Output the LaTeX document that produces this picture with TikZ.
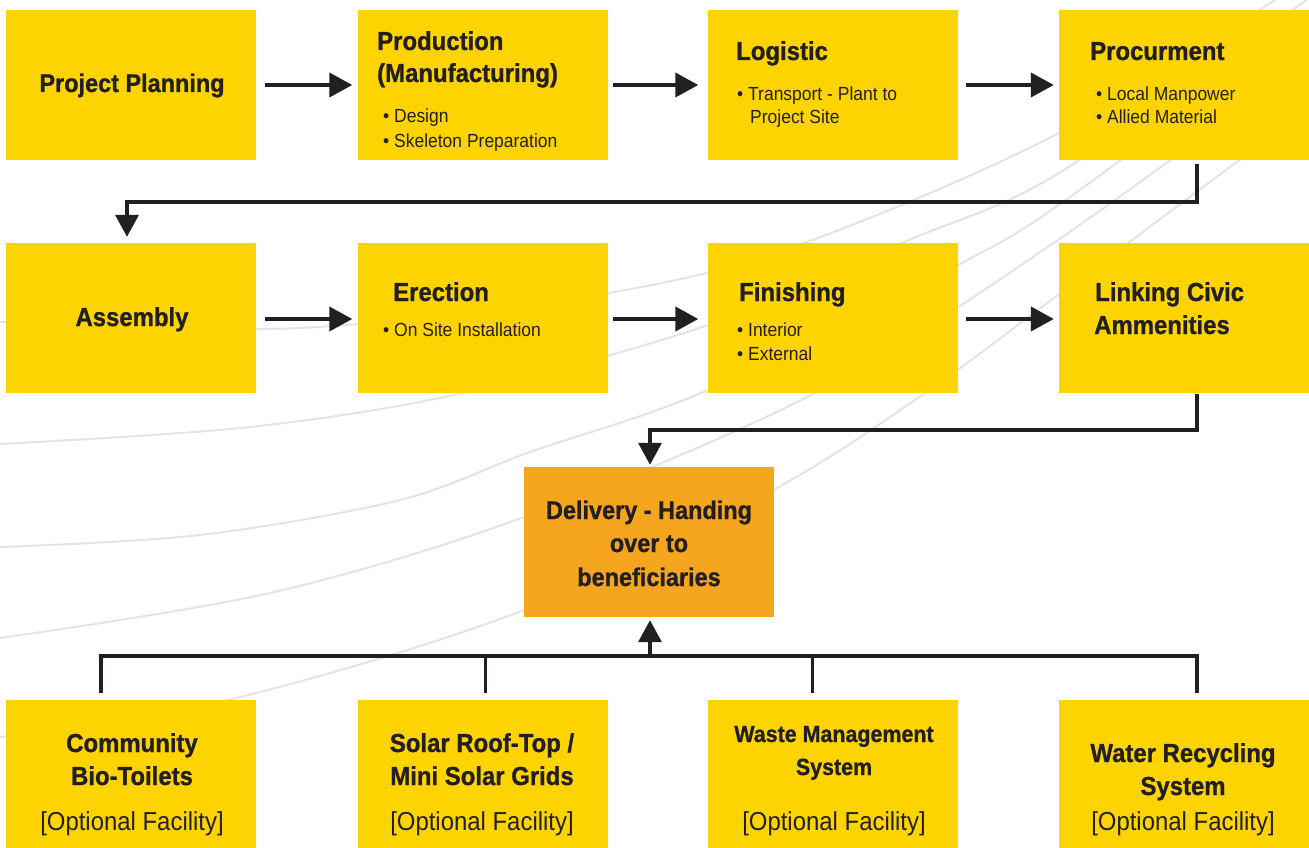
\documentclass[tikz,border=0pt]{standalone}
\usepackage{fontspec}
\setmainfont{Liberation Sans}[FakeStretch=0.92, BoldFeatures={FakeBold=1}]
\usetikzlibrary{arrows.meta}
\definecolor{boxy}{HTML}{FDD400}
\definecolor{boxo}{HTML}{F6A51E}
\definecolor{ink}{HTML}{231F20}
\definecolor{swirl}{HTML}{E4E4E4}
\tikzset{
 box/.style={fill=boxy, draw=none, inner sep=0pt, minimum width=250pt, minimum height=150pt},
 dbox/.style={box, fill=boxo},
 ttl/.style={font=\fontsize{26}{31}\selectfont\bfseries, text=ink, inner sep=0pt, anchor=base west},
 ttlc/.style={ttl, anchor=base},
 bul/.style={font=\fontsize{19}{23}\selectfont, text=ink, inner sep=0pt, anchor=base west},
 opt/.style={font=\fontsize{26}{31}\selectfont, text=ink, inner sep=0pt, anchor=base},
 flow/.style={draw=ink, line width=4pt, -{Triangle[length=23pt,width=24pt]}},
 conn/.style={draw=ink, line width=3.5pt},
 connar/.style={conn, -{Triangle[length=22pt,width=23pt]}},
 swoosh/.style={draw=swirl, line width=2pt},
}
\begin{document}
\begin{tikzpicture}[x=1pt,y=-1pt]
\useasboundingbox (0,0) rectangle (1309,848);
\fill[white] (0,0) rectangle (1309,848);
\begin{scope}
\clip (0,0) rectangle (1309,848);
\draw[swoosh] plot[smooth, tension=0.55] coordinates {(0,322) (300,328) (608,293) (804,243) (1059,133) (1290,-10)};
\draw[swoosh] plot[smooth, tension=0.55] coordinates {(0,444) (250,427) (463,393) (708,325) (904,242) (1059,173) (1320,-10)};
\draw[swoosh] plot[smooth, tension=0.55] coordinates {(0,547) (200,535) (400,500) (530,452) (708,390) (958,265) (1070,197) (1320,10)};
\draw[swoosh] plot[smooth, tension=0.55] coordinates {(0,638) (270,593) (524,517) (815,393) (1058,240) (1320,50)};
\draw[swoosh] plot[smooth, tension=0.55] coordinates {(0,737) (236,698) (524,610) (773,490) (925,393) (1058,295) (1320,100)};
\end{scope}

% row 1
\node[box] (b1) at (131,85) {};
\node[box] (b2) at (482.5,85) {};
\node[box] (b3) at (832.5,85) {};
\node[box] (b4) at (1184,85) {};
% row 2
\node[box] (b5) at (131,318) {};
\node[box] (b6) at (482.5,318) {};
\node[box] (b7) at (832.5,318) {};
\node[box] (b8) at (1184,318) {};
% delivery
\node[dbox] (dl) at (648.5,542) {};
% row 3
\node[box] (c1) at (131,775) {};
\node[box] (c2) at (482.5,775) {};
\node[box] (c3) at (832.5,775) {};
\node[box] (c4) at (1184,775) {};

% texts row 1
\node[ttlc, font=\fontsize{25.5}{30}\selectfont\bfseries] (t1) at (132,92) {Project Planning};
\node[ttl] (t2a) at (377,50) {Production};
\node[ttl] (t2b) at (377,82) {(Manufacturing)};
\node[bul] (t2c) at (383,123) {• Design};
\node[bul] (t2d) at (383,147) {• Skeleton Preparation};
\node[ttl] (t3a) at (736,60) {Logistic};
\node[bul] (t3b) at (737,101) {• Transport - Plant to};
\node[bul] (t3c) at (750,124) {Project Site};
\node[ttl] (t4a) at (1090,60) {Procurment};
\node[bul] (t4b) at (1096,101) {• Local Manpower};
\node[bul] (t4c) at (1096,124) {• Allied Material};
% texts row 2
\node[ttlc] (t5) at (132,326) {Assembly};
\node[ttl] (t6a) at (393,301) {Erection};
\node[bul] (t6b) at (383,336) {• On Site Installation};
\node[ttl] (t7a) at (739,301) {Finishing};
\node[bul] (t7b) at (737,336) {• Interior};
\node[bul] (t7c) at (737,360) {• External};
\node[ttl] (t8a) at (1095,301) {Linking Civic};
\node[ttl] (t8b) at (1094,334) {Ammenities};
% delivery text
\node[ttlc, font=\fontsize{25.5}{30}\selectfont\bfseries] (td1) at (649,519) {Delivery - Handing};
\node[ttlc, font=\fontsize{25.5}{30}\selectfont\bfseries] (td2) at (649,552) {over to};
\node[ttlc, font=\fontsize{25.5}{30}\selectfont\bfseries] (td3) at (649,586) {beneficiaries};
% row 3 texts
\node[ttlc] (u1a) at (132,752) {Community};
\node[ttlc] (u1b) at (132,785) {Bio-Toilets};
\node[opt] (u1c) at (132,830) {[Optional Facility]};
\node[ttlc] (u2a) at (482,752) {Solar Roof-Top /};
\node[ttlc] (u2b) at (482,785) {Mini Solar Grids};
\node[opt] (u2c) at (482,830) {[Optional Facility]};
\node[ttlc, font=\fontsize{23.3}{29}\selectfont\bfseries] (u3a) at (834,742) {Waste Management};
\node[ttlc, font=\fontsize{23.3}{29}\selectfont\bfseries] (u3b) at (834,775) {System};
\node[opt] (u3c) at (834,830) {[Optional Facility]};
\node[ttlc] (u4a) at (1183,762) {Water Recycling};
\node[ttlc] (u4b) at (1183,795) {System};
\node[opt] (u4c) at (1183,830) {[Optional Facility]};

% horizontal flow arrows
\draw[flow] ([xshift=9pt]b1.east) -- ([xshift=-5pt]b2.west);
\draw[flow] ([xshift=5pt]b2.east) -- ([xshift=-9pt]b3.west);
\draw[flow] ([xshift=8pt]b3.east) -- ([xshift=-5pt]b4.west);
\draw[flow] ([xshift=9pt,yshift=-1pt]b5.east) -- ([xshift=-5pt,yshift=-1pt]b6.west);
\draw[flow] ([xshift=5pt,yshift=-1pt]b6.east) -- ([xshift=-9pt,yshift=-1pt]b7.west);
\draw[flow] ([xshift=8pt,yshift=-1pt]b7.east) -- ([xshift=-5pt,yshift=-1pt]b8.west);

% row changes
\draw[connar] ([xshift=13pt,yshift=-4pt]b4.south) -- ++(0,38) -| ([xshift=-4pt,yshift=6pt]b5.north);
\draw[connar] ([xshift=13pt,yshift=-1pt]b8.south) -- ++(0,36) -| ([xshift=1.5pt,yshift=2pt]dl.north);

% optional facilities bus
\draw[conn] ([xshift=-30pt,yshift=7pt]c1.north) |- ([xshift=13pt,yshift=44pt]c4.north) -- ([xshift=13pt,yshift=7pt]c4.north);
\draw[conn] ([xshift=3pt,yshift=7pt]c2.north) -- ([xshift=3pt,yshift=44pt]c2.north);
\draw[conn] ([xshift=-20pt,yshift=7pt]c3.north) -- ([xshift=-20pt,yshift=44pt]c3.north);
\draw[connar] ([xshift=1.5pt,yshift=-39pt]dl.south) -- ([xshift=1.5pt,yshift=-3pt]dl.south);
\end{tikzpicture}
\end{document}
